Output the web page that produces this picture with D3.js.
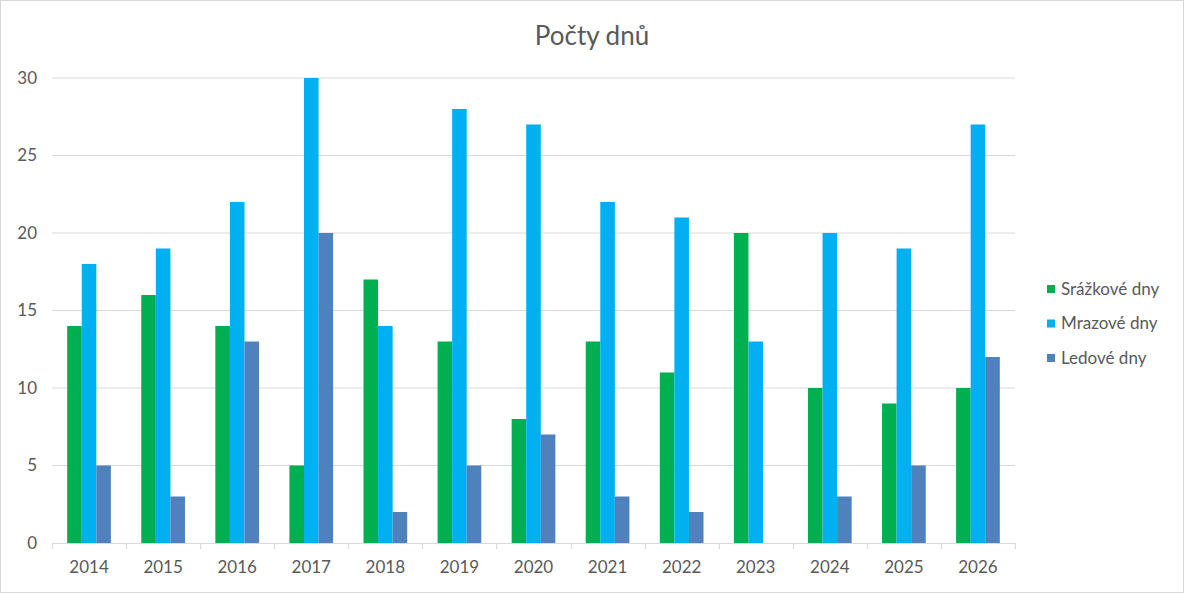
<!DOCTYPE html>
<html><head><meta charset="utf-8">
<script src="https://cdn.jsdelivr.net/npm/d3@7"></script>
<style>body{margin:0;background:#fff}svg{display:block}text{font-family:Lato,"Open Sans",sans-serif;fill:#595959}</style>
</head><body><svg id="c" width="1184" height="593"></svg>
<script>
const years = ["2014","2015","2016","2017","2018","2019","2020","2021","2022","2023","2024","2025","2026"];
const seriesNames = ["Srážkové dny","Mrazové dny","Ledové dny"];
const srazkove = [14,16,14,5,17,13,8,13,11,20,10,9,10];
const mrazove = [18,19,22,30,14,28,27,22,21,13,20,19,27];
const ledove = [5,3,13,20,2,5,7,3,2,0,3,5,12];
const colors = ["#00B050","#00B0F0","#4F81BD"];
const yTicks = [0,5,10,15,20,25,30];
const title = "Počty dnů";

const svg = d3.select("#c");
const W=1184,H=593;
svg.append("rect").attr("x",0.5).attr("y",0.5).attr("width",W-1).attr("height",H-1).attr("fill","#fff").attr("stroke","#D9D9D9");
const L=52,R=1015,T=78,B=543;
const x = d3.scaleBand().domain(years).range([L,R]).paddingInner(0.41).paddingOuter(0.205);
const y = d3.scaleLinear().domain([0,30]).range([B,T]);
const data=[srazkove,mrazove,ledove];
const xs = d3.scaleBand().domain([0,1,2]).range([0,x.bandwidth()]);

// grid
svg.append("g").selectAll("line").data(yTicks.filter(d=>d>0)).join("line")
 .attr("x1",L).attr("x2",R).attr("y1",d=>y(d)).attr("y2",d=>y(d)).attr("stroke","#D9D9D9").attr("stroke-width",1);

// bars
data.forEach((arr,si)=>{
 svg.append("g").selectAll("rect").data(arr).join("rect")
  .attr("x",(d,i)=>x(years[i])+xs(si)).attr("width",xs.bandwidth())
  .attr("y",d=>y(d)).attr("height",d=>B-y(d)).attr("fill",colors[si]);
});

// x axis
const step = (R-L)/years.length;
svg.append("line").attr("x1",L).attr("x2",R).attr("y1",B+0.5).attr("y2",B+0.5).attr("stroke","#D9D9D9");
svg.append("g").selectAll("line").data(d3.range(years.length+1)).join("line")
 .attr("x1",i=>Math.round(L+i*step)+0.5).attr("x2",i=>Math.round(L+i*step)+0.5).attr("y1",B).attr("y2",B+6).attr("stroke","#D9D9D9");
svg.append("g").selectAll("text").data(years).join("text")
 .attr("x",d=>x(d)+x.bandwidth()/2).attr("y",B+30).attr("text-anchor","middle").attr("font-size",17).text(d=>d);

// y labels
svg.append("g").selectAll("text").data(yTicks).join("text")
 .attr("x",37).attr("y",d=>y(d)).attr("dy","0.35em").attr("text-anchor","end").attr("font-size",17).text(d=>d);

// title
svg.append("text").attr("x",592).attr("y",45).attr("text-anchor","middle").attr("font-size",26).text(title);

// legend
const lg = svg.append("g");
seriesNames.forEach((n,i)=>{
 const cy = 289+i*34.5;
 lg.append("rect").attr("x",1047).attr("y",cy-4).attr("width",8).attr("height",8).attr("fill",colors[i]);
 lg.append("text").attr("x",1061).attr("y",cy).attr("dy","0.35em").attr("font-size",17).text(n);
});
</script></body></html>
